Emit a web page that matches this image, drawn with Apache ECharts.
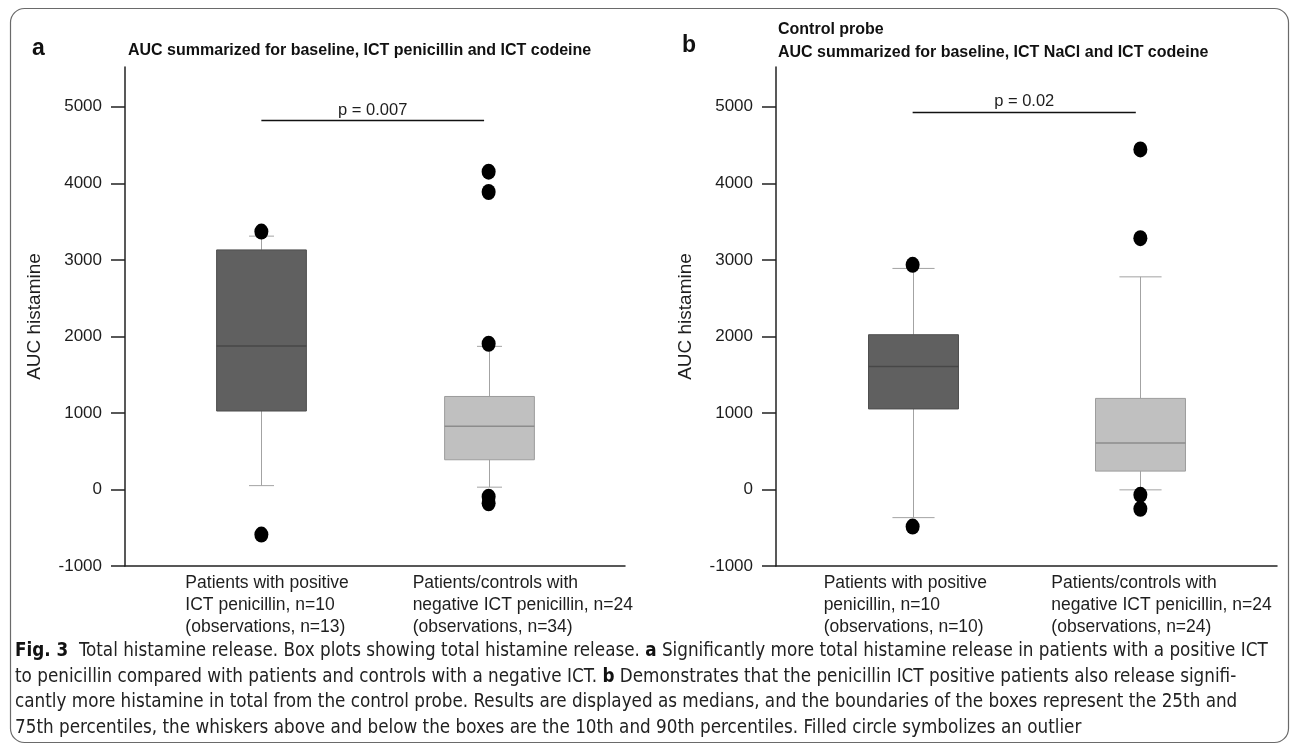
<!DOCTYPE html>
<html>
<head>
<meta charset="utf-8">
<title>Total histamine release</title>
<script src="https://cdn.jsdelivr.net/npm/echarts@6/dist/echarts.min.js"></script>
<style>
  html, body { margin: 0; padding: 0; background: #fff; }
  #chart { width: 1293px; height: 749px; }
</style>
</head>
<body>
<div id="chart"></div>
<script>
// category labels (one entry per box, lines of the label)
const labelsA = [
  ['Patients with positive', 'ICT penicillin, n=10', '(observations, n=13)'],
  ['Patients/controls with', 'negative ICT penicillin, n=24', '(observations, n=34)']
]
const labelsB = [
  ['Patients with positive', 'penicillin, n=10', '(observations, n=10)'],
  ['Patients/controls with', 'negative ICT penicillin, n=24', '(observations, n=24)']
]

// box stats: [position, 10th pct, 25th, median, 75th, 90th]
const boxesA = [
  [1, 50, 1025, 1875, 3130, 3310],
  [2, 30, 388, 825, 1215, 1870]
]
const boxesB = [
  [1, -368, 1052, 1607, 2022, 2888],
  [2, -5, 240, 608, 1190, 2778]
]

// outliers: [position, value]
const outliersA = [[1, 3370], [1, -590], [2, 4152], [2, 3887], [2, 1904], [2, -95], [2, -180]]
const outliersB = [[1, 2935], [1, -485], [2, 4443], [2, 3283], [2, -70], [2, -253]]

// significance bars: [from, to, value]
const pBarA = [1, 1.98, 4820]
const pBarB = [1, 1.98, 4935]
const pTextA = 'p = 0.007'
const pTextB = 'p = 0.02'

const yTicks = [-1000, 0, 1000, 2000, 3000, 4000, 5000]
const xTicks = [1, 2]

const BOX_FILL = ['#606060', '#c0c0c0']
const BOX_EDGE = ['#4e4e4e', '#9c9c9c']
const MEDIAN = ['#474747', '#8c8c8c']
const WHISKER = '#a3a3a3'
const BOX_W = 0.395
const TXT = '#1e1e1e'
const FONT = 'Liberation Sans, Arial, sans-serif'

const chart = echarts.init(document.getElementById('chart'), null, { renderer: 'canvas' })

function boxRenderer (capW) {
  return function (params, api) {
    const i = params.dataIndex
    const x = api.value(0)
    const lo = api.coord([x, api.value(1)])
    const q1 = api.coord([x, api.value(2)])
    const med = api.coord([x, api.value(3)])
    const q3 = api.coord([x, api.value(4)])
    const hi = api.coord([x, api.value(5)])
    const hw = api.size([BOX_W, 0])[0] / 2
    const cw = api.size([capW, 0])[0] / 2
    const cx = Math.round(lo[0]) + 0.5
    const wStyle = { stroke: WHISKER, lineWidth: 1 }
    return {
      type: 'group',
      children: [
        { type: 'line', shape: { x1: cx, y1: lo[1], x2: cx, y2: q1[1] }, style: wStyle },
        { type: 'line', shape: { x1: cx, y1: q3[1], x2: cx, y2: hi[1] }, style: wStyle },
        { type: 'line', shape: { x1: cx - cw, y1: lo[1], x2: cx + cw, y2: lo[1] }, style: wStyle },
        { type: 'line', shape: { x1: cx - cw, y1: hi[1], x2: cx + cw, y2: hi[1] }, style: wStyle },
        {
          type: 'rect',
          shape: { x: cx - hw, y: q3[1], width: hw * 2, height: q1[1] - q3[1] },
          style: { fill: BOX_FILL[i], stroke: BOX_EDGE[i], lineWidth: 1 }
        },
        {
          type: 'line',
          shape: { x1: cx - hw, y1: med[1], x2: cx + hw, y2: med[1] },
          style: { stroke: MEDIAN[i], lineWidth: 1.5 }
        }
      ]
    }
  }
}

function xAxisFor (gridIndex, labels, pad) {
  return {
    type: 'value',
    gridIndex: gridIndex,
    min: 0.4,
    max: 2.6,
    axisLine: { show: true, onZero: false, lineStyle: { color: '#222', width: 1.5 } },
    axisTick: { show: false },
    splitLine: { show: false },
    axisLabel: {
      customValues: xTicks,
      margin: 6,
      padding: [0, 0, 0, pad],
      formatter: function (v) {
        return labels[Math.round(v) - 1].map(function (l) { return '{l|' + l + '}' }).join('\n')
      },
      rich: {
        l: { width: 178, align: 'left', fontSize: 17.5, lineHeight: 22, color: TXT, fontFamily: FONT }
      }
    }
  }
}

function yAxisFor (gridIndex) {
  return {
    type: 'value',
    gridIndex: gridIndex,
    min: -1000,
    max: 5520,
    name: 'AUC histamine',
    nameLocation: 'middle',
    nameGap: 81,
    nameTextStyle: { fontSize: 19, color: TXT, fontFamily: FONT },
    axisLine: { show: true, lineStyle: { color: '#222', width: 1.5 } },
    axisTick: { show: true, customValues: yTicks, length: 14, lineStyle: { color: '#222', width: 1.5 } },
    axisLabel: {
      customValues: yTicks,
      margin: 23,
      fontSize: 17,
      color: TXT,
      fontFamily: FONT,
      formatter: function (v) { return String(v) }
    },
    splitLine: { show: false }
  }
}

function pMark (bar, text) {
  return {
    silent: true,
    symbol: ['none', 'none'],
    animation: false,
    lineStyle: { color: '#111', width: 1.3, type: 'solid' },
    label: { show: true, position: 'insideMiddleTop', formatter: text, distance: 2, fontSize: 16.5, color: TXT, fontFamily: FONT },
    data: [[{ coord: [bar[0], bar[2]] }, { coord: [bar[1], bar[2]] }]]
  }
}

const caption = [
  '{b|Fig. 3}  Total histamine release. Box plots showing total histamine release. {b|a} Significantly more total histamine release in patients with a positive ICT',
  'to penicillin compared with patients and controls with a negative ICT. {b|b} Demonstrates that the penicillin ICT positive patients also release signifi-',
  'cantly more histamine in total from the control probe. Results are displayed as medians, and the boundaries of the boxes represent the 25th and',
  '75th percentiles, the whiskers above and below the boxes are the 10th and 90th percentiles. Filled circle symbolizes an outlier'
]
const capFont = '"Liberation Sans Narrow", "DejaVu Sans Condensed", sans-serif'

chart.setOption({
  backgroundColor: '#fff',
  animation: false,
  textStyle: { fontFamily: FONT },
  title: [
    { text: 'a', left: 32, top: 37, padding: 0, textStyle: { fontSize: 23, fontWeight: 'bold', color: '#111' } },
    { text: 'AUC summarized for baseline, ICT penicillin and ICT codeine', left: 128, top: 43, padding: 0, textStyle: { fontSize: 16, fontWeight: 'bold', color: '#111' } },
    { text: 'b', left: 682, top: 34, padding: 0, textStyle: { fontSize: 23, fontWeight: 'bold', color: '#111' } },
    { text: 'Control probe\nAUC summarized for baseline, ICT NaCl and ICT codeine', left: 778, top: 18, padding: 0, textStyle: { fontSize: 16, fontWeight: 'bold', color: '#111', lineHeight: 23 } }
  ],
  grid: [
    { left: 125, right: 668, top: 67, bottom: 183 },
    { left: 776, right: 16, top: 67, bottom: 183 }
  ],
  xAxis: [xAxisFor(0, labelsA, 26), xAxisFor(1, labelsB, 0)],
  yAxis: [yAxisFor(0), yAxisFor(1)],
  series: [
    { type: 'custom', xAxisIndex: 0, yAxisIndex: 0, renderItem: boxRenderer(0.11), encode: { x: 0, y: [1, 2, 3, 4, 5] }, data: boxesA, z: 2 },
    { type: 'custom', xAxisIndex: 1, yAxisIndex: 1, renderItem: boxRenderer(0.185), encode: { x: 0, y: [1, 2, 3, 4, 5] }, data: boxesB, z: 2 },
    {
      type: 'scatter', xAxisIndex: 0, yAxisIndex: 0, data: outliersA, symbol: 'circle', symbolSize: [14, 16],
      itemStyle: { color: '#000', opacity: 1 }, z: 3, markLine: pMark(pBarA, pTextA)
    },
    {
      type: 'scatter', xAxisIndex: 1, yAxisIndex: 1, data: outliersB, symbol: 'circle', symbolSize: [14, 16],
      itemStyle: { color: '#000', opacity: 1 }, z: 3, markLine: pMark(pBarB, pTextB)
    }
  ],
  graphic: [
    {
      type: 'rect', silent: true, z: 0,
      shape: { x: 10.5, y: 8.5, width: 1278, height: 734, r: 14 },
      style: { fill: 'none', stroke: '#6a6a6a', lineWidth: 1.2 }
    }
  ].concat(caption.map(function (line, i) {
    return {
      type: 'text', silent: true, left: 15, top: 642 + i * 25.5,
      style: {
        text: line, fontSize: 18.7, fontFamily: capFont, fill: '#222',
        rich: { b: { fontWeight: 'bold', fontSize: 18.7, fontFamily: capFont, fill: '#111' } }
      }
    }
  }))
})
</script>
</body>
</html>
